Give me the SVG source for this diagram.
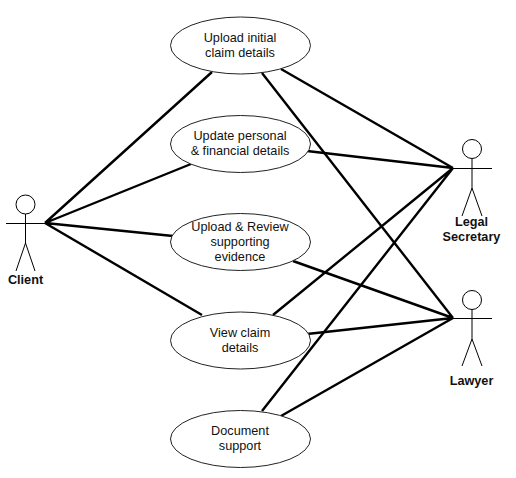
<svg xmlns="http://www.w3.org/2000/svg" width="516" height="478" viewBox="0 0 516 478">
<style>
.uc{fill:#fff;stroke:#222;stroke-width:1}
.a{fill:none;stroke:#000;stroke-width:1}
.c{fill:none;stroke:#000;stroke-width:2.4}
text{font-family:"Liberation Sans",Arial,sans-serif;font-size:12.7px;fill:#111;text-anchor:middle}
.b{font-weight:bold}
</style>
<rect width="516" height="478" fill="#fff"/>
<g id="connectors">
<path class="c" d="M45 223L212 72M45 223L191 164M45 223L173 236M45 223L202 315"/>
<path class="c" d="M453 168L281 69M453 168L307 151M453 168L273 315M453 168L262 411"/>
<path class="c" d="M453 318L262 73M453 318L293 261M453 318L307 334M453 318L281 416"/>
</g>
<g id="uc1"><ellipse class="uc" cx="240.500" cy="45.500" rx="70" ry="28.500"/><text x="240" y="42">Upload initial</text><text x="240" y="57">claim details</text></g>
<g id="uc2"><ellipse class="uc" cx="240.500" cy="144" rx="70" ry="28.500"/><text x="240" y="140">Update personal</text><text x="240" y="155">&amp; financial details</text></g>
<g id="uc3"><ellipse class="uc" cx="240.500" cy="242" rx="70" ry="28.500"/><text x="240" y="231">Upload &amp; Review</text><text x="240" y="246">supporting</text><text x="240" y="261">evidence</text></g>
<g id="uc4"><ellipse class="uc" cx="240.500" cy="340.500" rx="70" ry="28.500"/><text x="240" y="337">View claim</text><text x="240" y="352">details</text></g>
<g id="uc5"><ellipse class="uc" cx="240.500" cy="439" rx="70" ry="28.500"/><text x="240" y="435">Document</text><text x="240" y="450">support</text></g>
<g id="client"><circle class="a" cx="25.500" cy="204.500" r="9.500"/><path class="a" d="M25.500 214V243M6 223.500H45M25.500 243L16 271M25.500 243L35 271"/><text class="b" x="25.500" y="284">Client</text></g>
<g id="legal-secretary"><circle class="a" cx="472" cy="149" r="9.500"/><path class="a" d="M472 158.500V188M453 168.500H492M472 188L462 216M472 188L482 216"/><text class="b" x="471.500" y="226">Legal</text><text class="b" x="471.500" y="241">Secretary</text></g>
<g id="lawyer"><circle class="a" cx="472" cy="300" r="9.500"/><path class="a" d="M472 309.500V339M453 318.500H492M472 339L462 366M472 339L482 366"/><text class="b" x="471.500" y="385">Lawyer</text></g>
</svg>
